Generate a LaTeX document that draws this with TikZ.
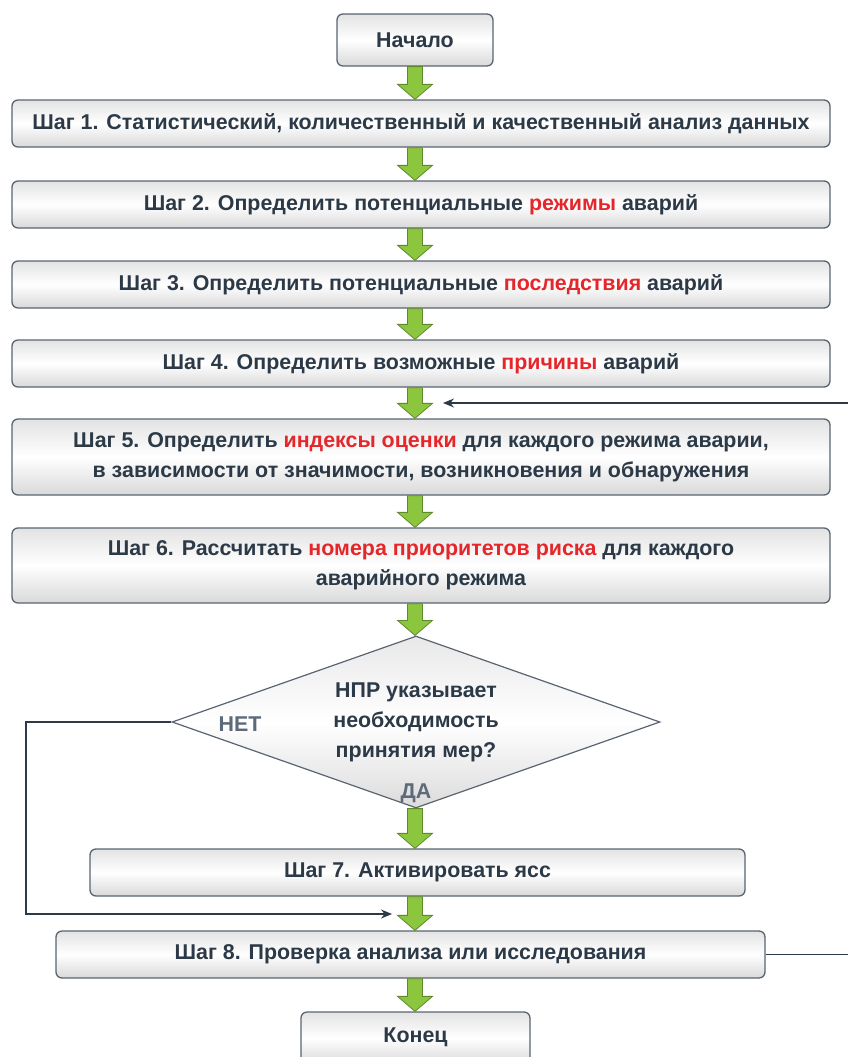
\documentclass[tikz,border=0pt]{standalone}
\usepackage{fontspec}
\setmainfont{Liberation Sans}
\usetikzlibrary{shapes.geometric,arrows.meta,calc}
\definecolor{txt}{HTML}{2C3947}
\definecolor{redt}{HTML}{E5262A}
\definecolor{bord}{HTML}{5A6470}
\definecolor{grn}{HTML}{8CC63F}
\definecolor{grnd}{HTML}{5E8A2C}
\definecolor{lbl}{HTML}{5C6A7A}
\newcommand\rt[1]{\textcolor{redt}{#1}}
\newcommand\garrow[2]{%
  \path[greenarrow] let \p1=(#1.south), \p2=(#2.north) in
    (407.5,\y1) -- (422.5,\y1) -- (422.5,\y2+15) -- (432.5,\y2+15) -- (415,\y2)
    -- (397.5,\y2+15) -- (407.5,\y2+15) -- cycle;}
\tikzset{
  x=1pt,y=-1pt,
  box/.style={draw=bord, line width=1.3pt, rounded corners=6pt,
    top color=gray!22, bottom color=gray!30, middle color=white,
    text=txt, font=\fontsize{21.4}{30}\selectfont\bfseries, align=center,
    inner sep=0pt},
  dia/.style={draw=bord, line width=1.2pt, diamond, aspect=2.84,
    top color=gray!18, bottom color=gray!28, middle color=white,
    text=txt, font=\fontsize{21.4}{30}\selectfont\bfseries, align=center,
    inner sep=0pt, minimum width=488pt, minimum height=172pt},
  greenarrow/.style={fill=grn, draw=grnd, line width=0.8pt},
  conn/.style={draw=txt, line width=1.2pt},
  tip/.style={-{Stealth[length=11pt,width=9pt]}},
  lab/.style={text=lbl, font=\fontsize{21.4}{24}\selectfont\bfseries}
}
\begin{document}
\begin{tikzpicture}
\useasboundingbox (0,0) rectangle (848,1057);
\clip (0,0) rectangle (848,1057);
\node[box, minimum width=156pt, minimum height=52pt] (st) at (415,40) {Начало};
\node[box, minimum width=818pt, minimum height=47pt] (s1) at (421,123.5)
  {Шаг 1. Статистический, количественный и качественный анализ данных};
\node[box, minimum width=818pt, minimum height=47pt] (s2) at (421,204.5)
  {Шаг 2. Определить потенциальные \rt{режимы} аварий};
\node[box, minimum width=818pt, minimum height=47pt] (s3) at (421,284.5)
  {Шаг 3. Определить потенциальные \rt{последствия} аварий};
\node[box, minimum width=818pt, minimum height=47pt] (s4) at (421,363.5)
  {Шаг 4. Определить возможные \rt{причины} аварий};
\node[box, minimum width=818pt, minimum height=76pt] (s5) at (421,457)
  {Шаг 5. Определить \rt{индексы оценки} для каждого режима аварии,\\
   в зависимости от значимости, возникновения и обнаружения};
\node[box, minimum width=818pt, minimum height=75pt] (s6) at (421,565.5)
  {Шаг 6. Рассчитать \rt{номера приоритетов риска} для каждого\\
   аварийного режима};
\node[dia] (d) at (416,722)
  {НПР указывает\\необходимость\\принятия мер?};
\node[lab] (no) at (240,724) {НЕТ};
\node[lab] (yes) at (416,793) {ДА};
\node[box, minimum width=655pt, minimum height=47pt] (s7) at (417.5,872.5)
  {Шаг 7. Активировать ясс};
\node[box, minimum width=709pt, minimum height=47pt] (s8) at (410.5,954.5)
  {Шаг 8. Проверка анализа или исследования};
\node[box, minimum width=229pt, minimum height=52pt] (en) at (415.5,1038)
  {\raisebox{6pt}{Конец}};
\garrow{st}{s1}
\garrow{s1}{s2}
\garrow{s2}{s3}
\garrow{s3}{s4}
\garrow{s4}{s5}
\garrow{s5}{s6}
\garrow{s6}{d}
\garrow{d}{s7}
\garrow{s7}{s8}
\garrow{s8}{en}
\coordinate (in8) at (392,914);
\coordinate (in5) at (443,403);
\draw[conn,tip] (d.west) -- (26,722) |- (in8);
\draw[conn,tip] (s8.east) -- (870,954.5) |- (in5);
\end{tikzpicture}
\end{document}
